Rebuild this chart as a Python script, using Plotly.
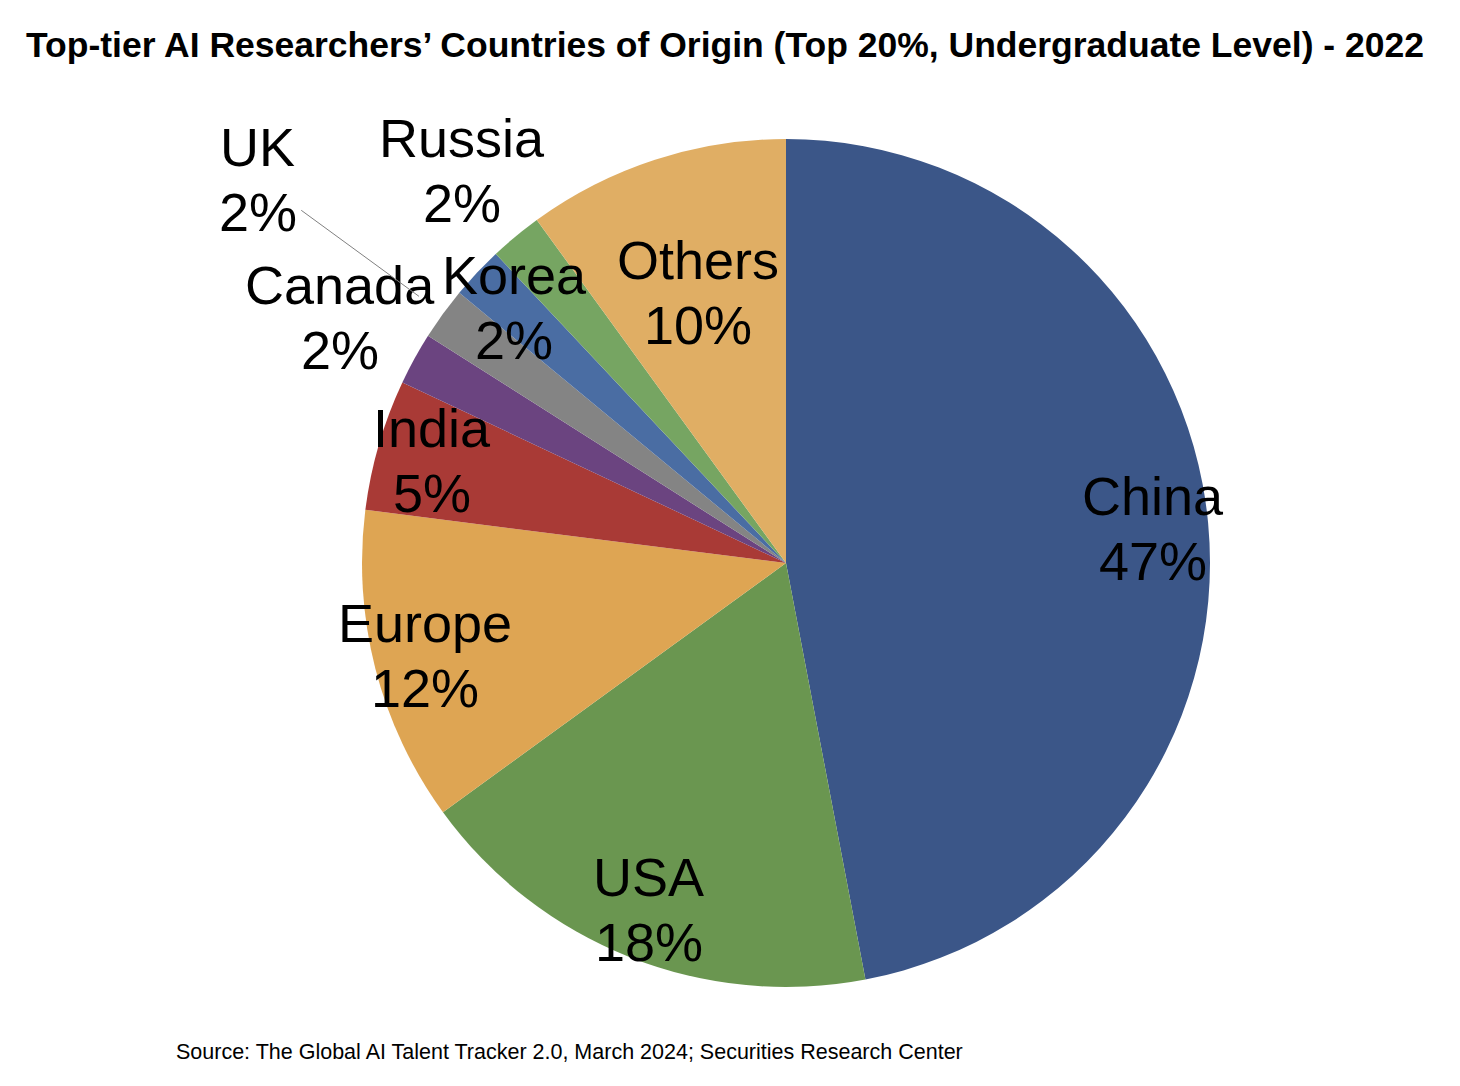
import math
import plotly.graph_objects as go

# ---- data ----
countries = ["China", "USA", "Europe", "India", "Canada", "UK", "Korea", "Russia", "Others"]
shares = [47, 18, 12, 5, 2, 2, 2, 2, 10]
colors = ["#3B5688", "#6A9650", "#DEA553", "#A93A36", "#6B4480",
          "#848484", "#4A6DA3", "#76A562", "#E0AE64"]
# radial placement of each label (fraction of radius)
label_radius = [0.87, 0.88, 0.88, 0.87, 1.20, 1.54, 0.88, 1.20, 0.67]

title_text = "Top-tier AI Researchers’ Countries of Origin (Top 20%, Undergraduate Level) - 2022"
source_text = "Source: The Global AI Talent Tracker 2.0, March 2024; Securities Research Center"

# ---- layout geometry (pixels) ----
W, H = 1460, 1086
CX, CY, R = 786, 563, 424
FONT = "Liberation Sans, Arial, Helvetica, sans-serif"
LABEL_SIZE = 54
LINE_GAP = 65

fig = go.Figure(go.Pie(
    labels=countries,
    values=shares,
    sort=False,
    direction="clockwise",
    rotation=0,
    marker=dict(colors=colors, line=dict(width=0)),
    textinfo="none",
    showlegend=False,
    domain=dict(x=[(CX - R) / W, (CX + R) / W], y=[1 - (CY + R) / H, 1 - (CY - R) / H]),
))

total = sum(shares)
annotations = []
cum = 0
lf = dict(family=FONT, size=LABEL_SIZE, color="black")
for name, v, rf in zip(countries, shares, label_radius):
    mid = (cum + v / 2) / total * 2 * math.pi
    cum += v
    px = CX + rf * R * math.sin(mid)
    py = CY - rf * R * math.cos(mid)
    pct = f"{round(v / total * 100)}%"
    for t, shift in ((name, LINE_GAP / 2), (pct, -LINE_GAP / 2)):
        annotations.append(dict(
            x=px / W, y=1 - py / H, xref="paper", yref="paper", yshift=shift,
            text=t, showarrow=False, xanchor="center", yanchor="middle",
            font=lf, align="center"))
    if name == "UK":
        tx = CX + 1.07 * R * math.sin(mid)
        ty = CY - 1.07 * R * math.cos(mid)
        sx = px + 42
        sy = py + 30
        annotations.append(dict(
            x=tx / W, y=1 - ty / H, xref="paper", yref="paper",
            text="", showarrow=True, arrowhead=0, arrowwidth=1, arrowcolor="#808080",
            ax=sx - tx, ay=sy - ty, standoff=0))

annotations.append(dict(
    x=725 / W, y=1 - 45 / H, xref="paper", yref="paper", text=f"<b>{title_text}</b>",
    showarrow=False, xanchor="center", yanchor="middle",
    font=dict(family=FONT, size=35.5, color="black")))
annotations.append(dict(
    x=174 / W, y=1 - 1052 / H, xref="paper", yref="paper", text=source_text,
    showarrow=False, xanchor="left", yanchor="middle",
    font=dict(family=FONT, size=21.5, color="black")))

fig.update_layout(
    width=W, height=H, autosize=False,
    margin=dict(l=0, r=0, t=0, b=0),
    paper_bgcolor="white", plot_bgcolor="white",
    annotations=annotations,
)

fig.write_html("out.html")
